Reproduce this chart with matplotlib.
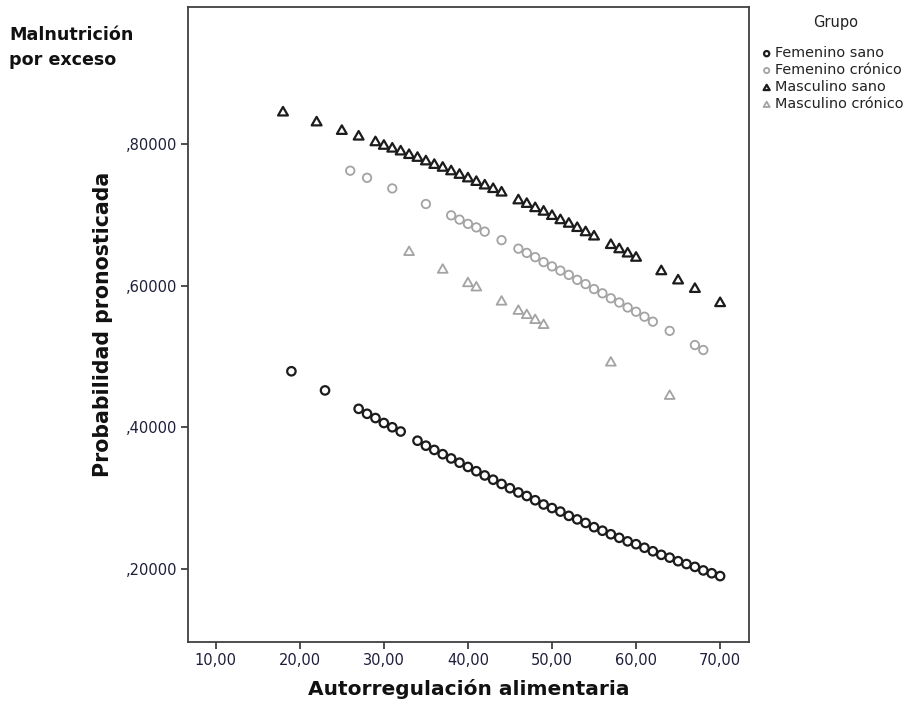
import matplotlib
matplotlib.use("Agg")
import matplotlib.pyplot as plt
from matplotlib.path import Path
from matplotlib.ticker import FixedLocator, FuncFormatter

# ---- data ----
fs_x = [19, 23, 27, 28, 29, 30, 31, 32, 34, 35, 36, 37, 38, 39, 40, 41, 42, 43, 44, 45,
        46, 47, 48, 49, 50, 51, 52, 53, 54, 55, 56, 57, 58, 59, 60, 61, 62, 63, 64, 65,
        66, 67, 68, 69, 70]
fs_y = [0.479, 0.452, 0.426, 0.419, 0.413, 0.406, 0.400, 0.394, 0.381, 0.374, 0.368, 0.362,
        0.356, 0.350, 0.344, 0.338, 0.332, 0.326, 0.320, 0.314, 0.308, 0.303, 0.297, 0.291,
        0.286, 0.281, 0.275, 0.270, 0.265, 0.259, 0.254, 0.249, 0.244, 0.239, 0.235, 0.230,
        0.225, 0.220, 0.216, 0.211, 0.207, 0.203, 0.198, 0.194, 0.190]

fc_x = [26, 28, 31, 35, 38, 39, 40, 41, 42, 44, 46, 47, 48, 49, 50, 51, 52, 53, 54, 55,
        56, 57, 58, 59, 60, 61, 62, 64, 67, 68]
fc_y = [0.762, 0.752, 0.737, 0.715, 0.699, 0.693, 0.687, 0.682, 0.676, 0.664, 0.652, 0.646,
        0.640, 0.633, 0.627, 0.621, 0.615, 0.608, 0.602, 0.595, 0.589, 0.582, 0.576, 0.569,
        0.563, 0.556, 0.549, 0.536, 0.516, 0.509]

ms_x = [18, 22, 25, 27, 29, 30, 31, 32, 33, 34, 35, 36, 37, 38, 39, 40, 41, 42, 43, 44,
        46, 47, 48, 49, 50, 51, 52, 53, 54, 55, 57, 58, 59, 60, 63, 65, 67, 70]
ms_y = [0.846, 0.832, 0.820, 0.812, 0.804, 0.799, 0.795, 0.791, 0.786, 0.782, 0.777, 0.772,
        0.768, 0.763, 0.758, 0.753, 0.748, 0.743, 0.738, 0.733, 0.722, 0.717, 0.711, 0.706,
        0.700, 0.694, 0.689, 0.683, 0.677, 0.671, 0.659, 0.653, 0.647, 0.641, 0.622, 0.609,
        0.597, 0.577]

mc_x = [33, 37, 40, 41, 44, 46, 47, 48, 49, 57, 64]
mc_y = [0.649, 0.624, 0.605, 0.599, 0.579, 0.566, 0.560, 0.553, 0.546, 0.493, 0.446]

group_labels = ["Femenino sano", "Femenino crónico", "Masculino sano", "Masculino crónico"]
x_ticks = [10, 20, 30, 40, 50, 60, 70]
y_ticks = [0.2, 0.4, 0.6, 0.8]

# ---- styling ----
plt.rcParams['font.family'] = ['DejaVu Sans']
BLACK = '#1c1c1c'
GRAY = '#a3a3a3'
AX = '#404040'
TXT = '#1e1e3c'

fig = plt.figure(figsize=(9.14, 7.10), dpi=100)
ax = fig.add_axes([188/914, 1-642/710, (748.7-188)/914, (642-7)/710])

tri = Path([(0, 0.8), (-0.92, -0.8), (0.92, -0.8), (0, 0.8)],
           [Path.MOVETO, Path.LINETO, Path.LINETO, Path.CLOSEPOLY])

series = [
    (fs_x, fs_y, 'o', BLACK, 1.6, 37),
    (fc_x, fc_y, 'o', GRAY, 1.3, 37),
    (ms_x, ms_y, tri, BLACK, 1.6, 50),
    (mc_x, mc_y, tri, GRAY, 1.3, 50),
]
for (xs, ys, mk, col, lw, s), lab in zip(series, group_labels):
    ax.scatter(xs, ys, marker=mk, s=s, facecolors='none', edgecolors=col,
               linewidths=lw, label=lab, zorder=3)

ax.set_xlim(6.7, 73.4)
ax.set_ylim(0.097, 0.993)
ax.xaxis.set_major_locator(FixedLocator(x_ticks))
ax.yaxis.set_major_locator(FixedLocator(y_ticks))
ax.xaxis.set_major_formatter(FuncFormatter(lambda v, p: f"{v:.2f}".replace('.', ',')))
ax.yaxis.set_major_formatter(FuncFormatter(lambda v, p: f"{v:.5f}".lstrip('0').replace('.', ',')))

for sp in ax.spines.values():
    sp.set_color(AX)
    sp.set_linewidth(1.3)
ax.tick_params(direction='out', length=5, width=1.3, color=AX,
               labelsize=10.5, labelcolor=TXT, pad=3)

ax.set_xlabel("Autorregulación alimentaria", fontsize=14.5, fontweight='bold',
              color='#111111', labelpad=8)
ax.set_ylabel("Probabilidad pronosticada", fontsize=14.8, fontweight='bold',
              color='#111111', labelpad=9)

fig.text(9/914, 1-47.5/710, "Malnutrición\npor exceso", fontsize=12.6, fontweight='bold',
         color='#111111', ha='left', va='center', linespacing=1.5)

fig.text(836/914, 1-22/710, "Grupo", fontsize=10.5, color='#222222',
         ha='center', va='center')
leg = fig.legend(loc='upper left', bbox_to_anchor=(758/914, 1-45/710), frameon=False,
                 fontsize=10.4, markerscale=0.62,
                 handletextpad=0.05, handlelength=1.0, labelspacing=0.2,
                 borderaxespad=0, borderpad=0.1)
for t in leg.get_texts():
    t.set_color('#222222')

fig.savefig("out.png", dpi=100)
